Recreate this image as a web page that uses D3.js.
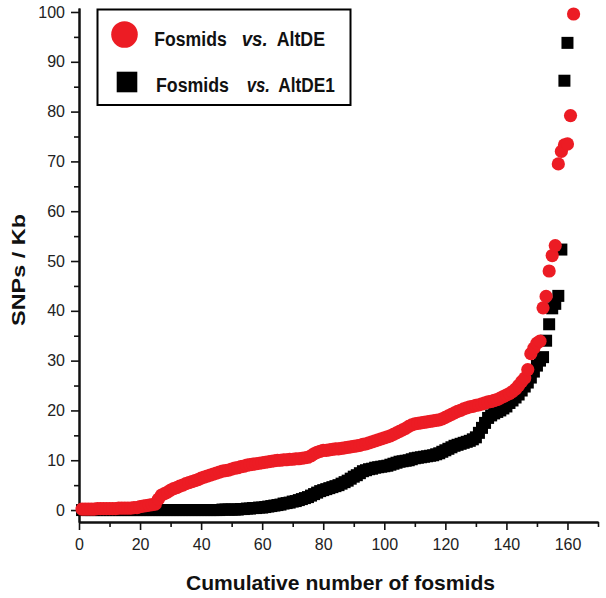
<!DOCTYPE html>
<html>
<head>
<meta charset="utf-8">
<script src="https://cdn.jsdelivr.net/npm/d3@7"></script>
<style>
  html, body { margin: 0; padding: 0; background: #fff; }
  svg { display: block; }
  .tick text { font-family: "Liberation Sans", Arial, sans-serif; font-size: 16px; fill: #222; }
  .narrow { font-family: "Liberation Sans", Arial, sans-serif; font-weight: bold; fill: #111; }
</style>
</head>
<body>
<svg id="chart" width="606" height="598"></svg>
<script>
// ---- data ----
const seriesNames = ["Fosmids vs. AltDE", "Fosmids vs. AltDE1"];
const altdeValues = [
  0.2,0.2,0.2,0.2,0.2,0.3,0.3,0.3,0.3,0.3,0.3,0.3,0.4,0.4,0.4,0.4,0.4,0.5,0.5,
  0.7,0.8,0.9,1.0,1.1,1.2,
  2.2,3.0,3.3,3.6,4.0,
  4.3,4.5,4.8,5.0,5.3,5.5,5.7,5.9,6.1,6.4,
  6.6,6.8,7.0,7.2,7.4,7.6,7.8,7.9,8.0,8.2,
  8.4,8.5,8.7,8.8,9.0,9.1,9.2,9.3,9.4,9.5,
  9.6,9.7,9.8,9.9,10.0,10.0,10.1,10.1,10.2,10.2,
  10.3,10.3,10.4,10.5,10.6,10.9,
  11.3,11.6,11.8,12.0,
  12.0,12.1,12.2,12.3,12.3,12.4,12.5,12.6,12.7,12.8,
  12.9,13.0,13.2,13.3,13.5,13.7,13.9,14.1,14.3,14.5,
  14.7,14.9,15.2,15.5,15.8,16.1,16.4,16.8,17.1,17.3,
  17.4,17.5,17.6,17.7,17.8,17.9,18.0,18.1,18.3,18.6,
  18.9,19.2,19.5,19.8,20.0,20.3,20.5,20.7,20.8,21.0,
  21.1,21.3,21.5,21.7,21.8,22.0,22.2,22.5,22.8,23.1,
  23.4,23.8,24.3,25.0,25.8,26.5,28.2,31.4,32.5,33.5,
  33.9,40.6,42.9,48.0,51.1,53.1,69.5,72.0,73.3,73.5,
  79.2,99.6
];
const altde1Values = [
  0.0,0.0,0.0,0.0,0.0,0.0,0.0,0.0,0.0,0.0,
  0.0,0.0,0.0,0.0,0.0,0.0,0.0,0.0,0.0,0.0,
  0.0,0.0,0.0,0.0,0.0,0.0,0.0,0.0,0.0,0.0,
  0.0,0.0,0.0,0.0,0.0,0.0,0.0,0.0,0.0,0.0,
  0.0,0.0,0.0,0.0,0.0,0.0,0.1,0.1,0.1,0.1,
  0.1,0.1,0.2,0.2,0.3,0.3,0.4,0.4,0.5,0.5,
  0.6,0.7,0.8,0.9,1.0,1.1,1.3,1.4,1.5,1.7,
  1.8,2.0,2.2,2.4,2.6,2.9,3.2,3.5,3.8,4.0,
  4.2,4.4,4.6,4.8,5.0,5.3,5.6,5.9,6.3,6.7,
  7.0,7.4,7.8,8.0,8.2,8.3,8.5,8.6,8.7,8.8,
  8.9,9.1,9.3,9.5,9.7,9.8,9.9,10.0,10.2,10.4,
  10.5,10.6,10.7,10.8,10.9,11.0,11.2,11.4,11.7,12.0,
  12.3,12.6,12.9,13.1,13.3,13.5,13.7,13.9,14.2,14.6,
  15.5,16.5,17.5,18.5,19.0,19.4,19.7,20.0,20.4,20.8,
  21.5,22.0,22.6,23.2,24.0,24.8,25.6,26.6,27.8,29.0,
  30.0,30.7,34.0,37.3,40.5,41.4,43.0,52.3,86.2,93.8
];
const xTickValues = [0,20,40,60,80,100,120,140,160];
const xMinorTicks = [10,30,50,70,90,110,130,150,170];
const yTickValues = [0,10,20,30,40,50,60,70,80,90,100];
const yMinorTicks = [5,15,25,35,45,55,65,75,85,95];
const xTitle = "Cumulative number of fosmids";
const yTitle = "SNPs / Kb";

// ---- layout ----
const svg = d3.select("#chart");
const x = d3.scaleLinear().domain([0, 170]).range([79, 598]);
const y = d3.scaleLinear().domain([-2.4, 100.8]).range([522, 8]);

// axes
function styleAxis(g) {
  g.selectAll(".tick line").attr("stroke-width", 1.6).attr("stroke", "#111");
  g.select(".domain").attr("stroke-width", 2).attr("stroke", "#111");
}
const gx = svg.append("g").attr("transform", "translate(0,522)")
  .call(d3.axisBottom(x).tickValues(xMinorTicks).tickSize(5).tickFormat("").tickSizeOuter(0));
styleAxis(gx);
const gx2 = svg.append("g").attr("transform", "translate(0,522)")
  .call(d3.axisBottom(x).tickValues(xTickValues).tickSize(8).tickPadding(9).tickSizeOuter(0).tickFormat(d3.format("d")));
styleAxis(gx2);

const gy = svg.append("g").attr("transform", "translate(79,0)")
  .call(d3.axisLeft(y).tickValues(yMinorTicks).tickSize(5).tickFormat("").tickSizeOuter(0));
styleAxis(gy);
const gy2 = svg.append("g").attr("transform", "translate(79,0)")
  .call(d3.axisLeft(y).tickValues(yTickValues).tickSize(8).tickPadding(6).tickSizeOuter(0).tickFormat(d3.format("d")));
styleAxis(gy2);

// black squares (AltDE1)
const sq = 12;
svg.append("g").selectAll("rect").data(altde1Values).join("rect")
  .attr("x", (d, i) => x(i + 1) - sq / 2)
  .attr("y", d => y(d) - sq / 2)
  .attr("width", sq).attr("height", sq)
  .attr("fill", "#000");

// red circles (AltDE)
svg.append("g").selectAll("circle").data(altdeValues).join("circle")
  .attr("cx", (d, i) => x(i + 1))
  .attr("cy", d => y(d))
  .attr("r", 6.6)
  .attr("fill", "#ec1c24");

// axis titles
svg.append("text").attr("class", "narrow")
  .attr("x", 186).attr("y", 590)
  .attr("font-size", 21).attr("textLength", 309).attr("lengthAdjust", "spacingAndGlyphs")
  .text(xTitle);
svg.append("text").attr("class", "narrow")
  .attr("transform", "translate(25,326) rotate(-90)")
  .attr("font-size", 19).attr("textLength", 112).attr("lengthAdjust", "spacingAndGlyphs")
  .text(yTitle);

// legend
const lg = svg.append("g");
lg.append("rect").attr("x", 97.5).attr("y", 9.5).attr("width", 253).attr("height", 95.5)
  .attr("fill", "#fff").attr("stroke", "#000").attr("stroke-width", 2);
lg.append("circle").attr("cx", 124.5).attr("cy", 34.5).attr("r", 13.3).attr("fill", "#ec1c24");
lg.append("rect").attr("x", 116.7).attr("y", 71.7).attr("width", 20.6).attr("height", 20.6).attr("fill", "#000");
function legendText(parts, xs, ws, yp) {
  parts.forEach((p, k) => {
    lg.append("text").attr("class", "narrow")
      .attr("x", xs[k]).attr("y", yp).attr("font-size", 20)
      .attr("font-style", k === 1 ? "italic" : "normal")
      .attr("textLength", ws[k]).attr("lengthAdjust", "spacingAndGlyphs")
      .text(p);
  });
}
const p0 = seriesNames[0].split(" ");
const p1 = seriesNames[1].split(" ");
legendText(p0, [154.3, 241.7, 276.7], [72.4, 26, 48.3], 45.7);
legendText(p1, [156, 246.7, 278.3], [73, 23.3, 56.7], 92.3);
</script>
</body>
</html>
